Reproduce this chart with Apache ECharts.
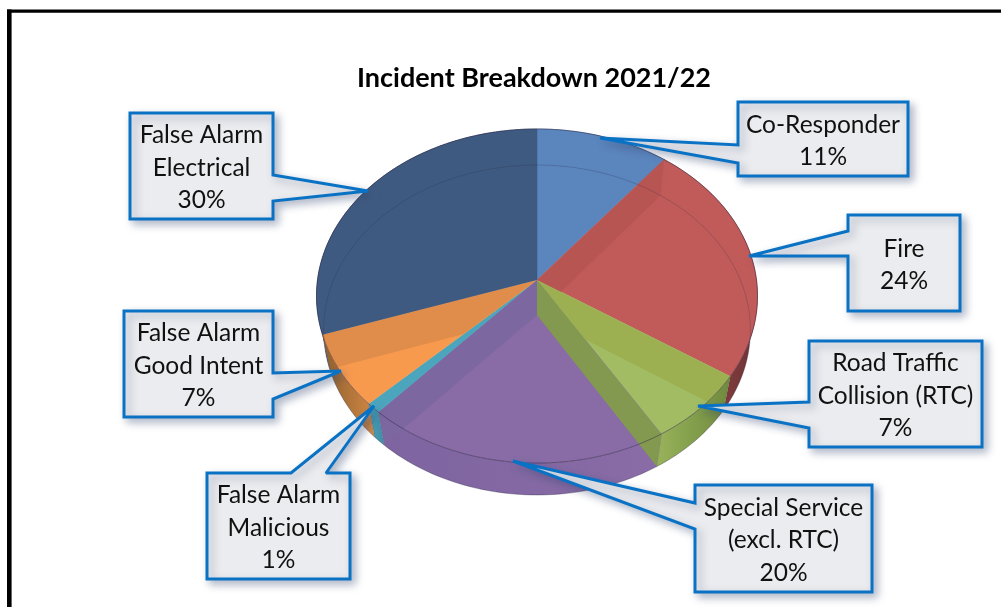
<!DOCTYPE html>
<html>
<head>
<meta charset="utf-8">
<style>html,body{margin:0;padding:0;background:#fff}#c{width:1001px;height:607px}</style>
<script src="https://cdn.jsdelivr.net/npm/echarts@6/dist/echarts.min.js"></script>
</head>
<body>
<div id="c"></div>
<script>
// ---------- data ----------
const chartTitle = 'Incident Breakdown 2021/22';
const categories = ['Co-Responder', 'Fire', 'Road Traffic\nCollision (RTC)', 'Special Service\n(excl. RTC)', 'False Alarm\nMalicious', 'False Alarm\nGood Intent', 'False Alarm\nElectrical'];
const shares = [10.7, 23.6, 7.0, 20.4, 1.0, 7.1, 30.2];

// ---------- styling and layout ----------
const topColors = ['#5b85bd', '#c05b59', '#a1bc63', '#896ca6', '#4ba6bd', '#f79a4e', '#3f5a80'];
const sideFills = [
  '#4a6d9c',
  grad('#a04c4c', '#6e3334'),
  grad('#98b35a', '#6f8a3d'),
  grad('#7d64a0', '#8a6ca6'),
  grad('#46a0b8', '#3f8ea6'),
  grad('#8d5f2e', '#d38844'),
  '#33496a'
];
const bands = [
  { slice: 1, edge: 'start', clip: true, color: '#b75553' },
  { slice: 2, edge: 'start', clip: true, color: '#9cb052' },
  { slice: 2, edge: 'end', clip: false, color: '#83994f' },
  { slice: 3, edge: 'end', clip: false, color: '#7d67a0' },
  { slice: 5, edge: 'end', clip: true, color: '#e08d4b' }
];
const topDisc = { cx: 537, cy: 280, a: 219.5, b: 165.5, k: 0.0958 };
const lowDisc = { cx: 537, cy: 315, a: 212.5, b: 163.6, k: 0.0909 };
const callouts = [
  { box: [738, 102, 170, 74], p: [[738, 145], [600, 138], [738, 163]] },
  { box: [848, 215, 112, 96], p: [[848, 231], [749, 256], [848, 256]] },
  { box: [809, 341, 173, 106], p: [[809, 402], [698, 406], [809, 428]] },
  { box: [695, 485, 177, 107], p: [[695, 503], [513, 461], [695, 529]] },
  { box: [207, 473, 143, 106], p: [[291, 473], [374, 406], [326, 473]] },
  { box: [124, 311, 149, 106], p: [[273, 373], [341, 371], [273, 399]] },
  { box: [130, 113, 143, 106], p: [[273, 175], [368, 191], [273, 201]] }
];
const fontName = 'Lato, Carlito, "Open Sans", sans-serif';

function grad(a, b) {
  return { type: 'linear', x: 0, y: 0, x2: 1, y2: 0, colorStops: [{ offset: 0, color: a }, { offset: 1, color: b }] };
}

// ---------- geometry helpers ----------
const total = shares.reduce((s, v) => s + v, 0);
const starts = [];
shares.reduce((s, v, i) => { starts[i] = s / total; return s + v; }, 0);
const ends = starts.map((s, i) => s + shares[i] / total);

function proj(f, d) {
  const t = f * Math.PI * 2, u = Math.sin(t), v = -Math.cos(t), w = 1 - d.k * v;
  return [d.cx + d.a * u / w, d.cy + d.b * v / w];
}
function arc(f0, f1, d) {
  const n = Math.max(2, Math.ceil((f1 - f0) * 240)), out = [];
  for (let i = 0; i <= n; i++) out.push(proj(f0 + (f1 - f0) * i / n, d));
  return out;
}
function topSlice(i) {
  return [[topDisc.cx, topDisc.cy]].concat(arc(starts[i], ends[i], topDisc));
}

const seriesBase = { type: 'custom', coordinateSystem: 'none', silent: true, animation: false, data: shares };

const sideWalls = Object.assign({}, seriesBase, {
  renderItem(params) {
    const i = params.dataIndex;
    const pts = arc(starts[i], ends[i], topDisc).concat(arc(starts[i], ends[i], lowDisc).reverse());
    return { type: 'polygon', shape: { points: pts }, style: { fill: sideFills[i], stroke: 'rgba(60,50,70,0.25)', lineWidth: 0.6 } };
  }
});

const topFaces = Object.assign({}, seriesBase, {
  renderItem(params) {
    const i = params.dataIndex;
    return { type: 'polygon', shape: { points: topSlice(i) }, style: { fill: topColors[i], stroke: topColors[i], lineWidth: 0.5 } };
  }
});

const cutWalls = Object.assign({}, seriesBase, {
  data: bands.map(b => b.slice),
  renderItem(params) {
    const b = bands[params.dataIndex], f = b.edge === 'start' ? starts[b.slice] : ends[b.slice];
    const el = {
      type: 'polygon',
      shape: { points: [[topDisc.cx, topDisc.cy], proj(f, topDisc), proj(f, lowDisc), [lowDisc.cx, lowDisc.cy]] },
      style: { fill: b.color }
    };
    if (!b.clip) return el;
    return { type: 'group', clipPath: { type: 'polygon', shape: { points: topSlice(b.slice) } }, children: [el] };
  }
});

const discLines = Object.assign({}, seriesBase, {
  data: [0, 1],
  renderItem(params) {
    const isTop = params.dataIndex === 0;
    const pts = arc(0, 1, isTop ? topDisc : lowDisc);
    return {
      type: 'polyline', shape: { points: pts },
      style: { fill: null, stroke: isTop ? 'rgba(45,40,70,0.5)' : 'rgba(35,35,70,0.22)', lineWidth: 1 }
    };
  }
});

const calloutSeries = Object.assign({}, seriesBase, {
  renderItem(params) {
    const i = params.dataIndex, c = callouts[i], [x, y, w, h] = c.box;
    const [p0, tip, p1] = c.p;
    let pts;
    if (p0[0] === x + w) pts = [[x, y], [x + w, y], p0, tip, p1, [x + w, y + h], [x, y + h]];
    else if (p0[0] === x) pts = [[x, y], [x + w, y], [x + w, y + h], [x, y + h], p1, tip, p0];
    else pts = [[x, y], p0, tip, p1, [x + w, y], [x + w, y + h], [x, y + h]];
    return {
      type: 'group',
      children: [
        {
          type: 'polygon', shape: { points: pts },
          style: {
            fill: '#ebecef', stroke: '#0a72c4', lineWidth: 3, lineJoin: 'miter', miterLimit: 2,
            shadowBlur: 8, shadowOffsetX: 4, shadowOffsetY: 4, shadowColor: 'rgba(50,70,110,0.36)'
          }
        },
        {
          type: 'text',
          style: {
            text: categories[i] + '\n' + Math.round(shares[i]) + '%',
            x: x + w / 2, y: y + h / 2 + 2, align: 'center', verticalAlign: 'middle',
            font: '24.5px ' + fontName, lineHeight: 32.5, fill: '#111'
          }
        }
      ]
    };
  }
});

const chart = echarts.init(document.getElementById('c'), null, { renderer: 'canvas' });
chart.setOption({
  backgroundColor: '#fff',
  animation: false,
  title: {
    text: chartTitle, left: 529, top: 60, textAlign: 'center',
    textStyle: { fontFamily: fontName, fontWeight: 'bold', fontSize: 27, color: '#000' }
  },
  graphic: [
    { type: 'rect', silent: true, shape: { x: 7, y: 9.5, width: 994, height: 3.2 }, style: { fill: '#000' } },
    { type: 'rect', silent: true, shape: { x: 7, y: 9.5, width: 4.6, height: 598 }, style: { fill: '#000' } }
  ],
  series: [sideWalls, topFaces, cutWalls, discLines, calloutSeries]
});
</script>
</body>
</html>
